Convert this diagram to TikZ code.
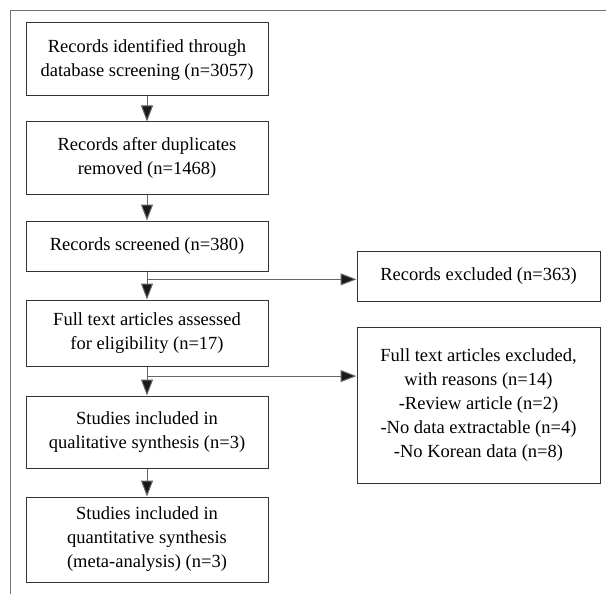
\documentclass[tikz,border=0pt]{standalone}
\usepackage{fontspec}
\setmainfont{Liberation Serif}
\usetikzlibrary{arrows.meta,calc}

\begin{document}
\begin{tikzpicture}[x=1pt,y=-1pt,
  box/.style={draw=black!80,line width=1pt,align=center,inner sep=2pt,
    font=\fontsize{18.5}{24}\selectfont},
  lbox/.style={box,minimum width=242pt},
  rbox/.style={box,minimum width=243pt},
  arr/.style={draw=black!60,line width=1pt,-{Triangle[width=12pt,length=16pt,fill=black!90]}},
  frame/.style={draw=black!55,line width=1pt}]

\useasboundingbox (0,0) rectangle (606,594);

% frame
\draw[frame] (10.5,594) -- (10.5,10.5) -- (606,10.5);

% main column
\node[lbox,minimum height=73pt] (ident) at (147,59.5)
  {Records identified through\\database screening (n=3057)};
\node[lbox,minimum height=72pt] (dup) at (147,158)
  {Records after duplicates\\removed (n=1468)};
\node[lbox,minimum height=50pt] (scr) at (147,246)
  {Records screened (n=380)};
\node[lbox,minimum height=66pt] (full) at (147,333)
  {Full text articles assessed\\for eligibility (n=17)};
\node[lbox,minimum height=72pt] (qual) at (147,432)
  {Studies included in\\qualitative synthesis (n=3)};
\node[lbox,minimum height=85pt] (quant) at (147,539.5)
  {Studies included in\\quantitative synthesis\\(meta-analysis) (n=3)};

% exclusions
\node[rbox,minimum height=50pt] (exrec) at (478.5,276)
  {Records excluded (n=363)};
\node[rbox,minimum height=156pt] (exfull) at (478.5,405)
  {Full text articles excluded,\\with reasons (n=14)\\-Review article (n=2)\\-No data extractable (n=4)\\-No Korean data (n=8)};

% vertical flow
\draw[arr] (ident) -- (dup);
\draw[arr] (dup) -- (scr);
\draw[arr] (scr) -- (full);
\draw[arr] (full) -- (qual);
\draw[arr] (qual) -- (quant);

% branches
\coordinate (b1) at ($(scr.south)!0.28!(full.north)$);
\coordinate (b2) at ($(full.south)!0.33!(qual.north)$);
\draw[arr] (b1) -- (exrec.west |- b1);
\draw[arr] (b2) -- (exfull.west |- b2);
\end{tikzpicture}
\end{document}
